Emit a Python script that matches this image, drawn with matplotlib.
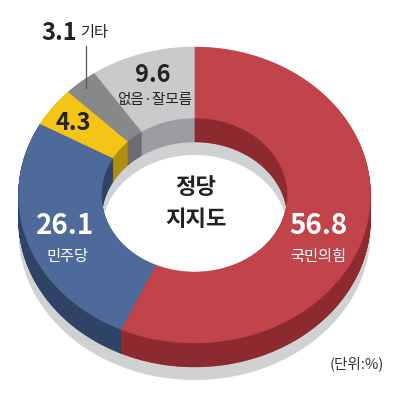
import numpy as np
import matplotlib
matplotlib.use("Agg")
import matplotlib.pyplot as plt
from matplotlib.patches import Polygon

plt.rcParams['font.family'] = ['Noto Sans CJK KR', 'DejaVu Sans']

# Data
labels = ["국민의힘", "민주당", "", "기타", "없음·잘모름"]
values = [56.8, 26.1, 4.3, 3.1, 9.6]
top_colors = ["#C1444A", "#4E6A9A", "#F4C416", "#87888A", "#C9CACC"]
side_colors = ["#8C2A2F", "#2E4366", "#B08E0E", "#6C6D70", "#9C9DA0"]
shadow_color = "#D0D1D3"

fig = plt.figure(figsize=(3.97, 3.97), dpi=100)
ax = fig.add_axes([0, 0, 1, 1])
ax.set_xlim(0, 397)
ax.set_ylim(397, 0)
ax.axis('off')

cx, cy = 194.5, 195.0
a_out, b_out = 176.0, 148.0
a_in, b_in = 93.0, 77.0
depth = 24.0
shadow_off = 37.0


def ring_poly(t1, t2, dy=0.0, n=200):
    t = np.radians(np.linspace(t1, t2, n))
    xo = cx + a_out * np.sin(t)
    yo = cy - b_out * np.cos(t) + dy
    xi = cx + a_in * np.sin(t[::-1])
    yi = cy - b_in * np.cos(t[::-1]) + dy
    return np.column_stack([np.concatenate([xo, xi]), np.concatenate([yo, yi])])


# angles (clockwise from top)
total = sum(values)
bounds = np.concatenate([[0], np.cumsum(values)]) / total * 360.0

# shadow ring
ax.add_patch(Polygon(ring_poly(0, 360, dy=shadow_off, n=400), closed=True,
                     facecolor=shadow_color, edgecolor='none', zorder=1))

# side walls by stacking
offsets = np.arange(depth, 0, -0.5)
for k, d in enumerate(offsets):
    for i in range(len(values)):
        ax.add_patch(Polygon(ring_poly(bounds[i], bounds[i + 1], dy=d), closed=True,
                             facecolor=side_colors[i], edgecolor=side_colors[i],
                             linewidth=0.3, zorder=2 + k * 0.001))

# top faces
for i in range(len(values)):
    ax.add_patch(Polygon(ring_poly(bounds[i], bounds[i + 1]), closed=True,
                         facecolor=top_colors[i], edgecolor=top_colors[i],
                         linewidth=0.3, zorder=5))

# texts
ax.text(318, 226, "56.8", color='white', fontsize=20, fontweight='bold',
        ha='center', va='center', zorder=10)
ax.text(318, 256, "국민의힘", color='white', fontsize=11,
        ha='center', va='center', zorder=10)
ax.text(65, 226, "26.1", color='white', fontsize=20, fontweight='bold',
        ha='center', va='center', zorder=10)
ax.text(67, 256, "민주당", color='white', fontsize=11,
        ha='center', va='center', zorder=10)
ax.text(73, 123, "4.3", color='#222222', fontsize=17, fontweight='bold',
        ha='center', va='center', zorder=10)
ax.text(153, 75, "9.6", color='#222222', fontsize=17, fontweight='bold',
        ha='center', va='center', zorder=10)
ax.text(155, 100, "없음·잘모름", color='#222222', fontsize=10.5,
        ha='center', va='center', zorder=10)
ax.text(59, 33, "3.1", color='#222222', fontsize=17, fontweight='bold',
        ha='center', va='center', zorder=10)
ax.text(94, 33, "기타", color='#222222', fontsize=11,
        ha='center', va='center', zorder=10)
ax.plot([86, 86], [46, 88], color='#555555', linewidth=0.9, zorder=10)
ax.text(196, 188, "정당", color='#222222', fontsize=16, fontweight='bold',
        ha='center', va='center', zorder=10)
ax.text(196, 219, "지지도", color='#222222', fontsize=16, fontweight='bold',
        ha='center', va='center', zorder=10)
ax.text(357, 364, "(단위:%)", color='#333333', fontsize=10.5,
        ha='center', va='center', zorder=10)

fig.savefig("out.png", dpi=100)
